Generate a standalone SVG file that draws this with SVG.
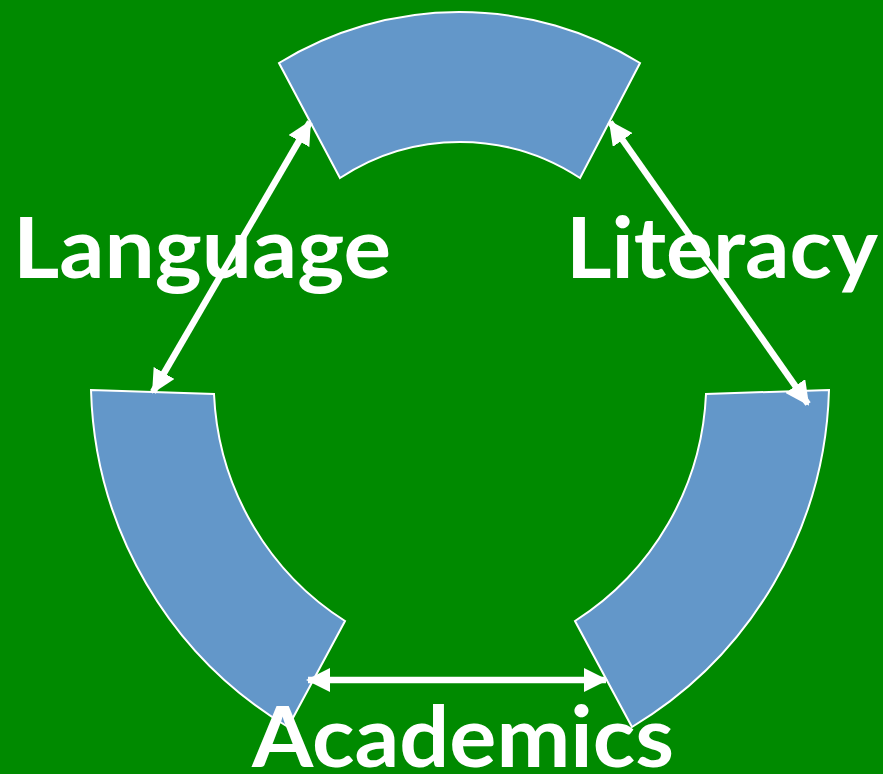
<svg xmlns="http://www.w3.org/2000/svg" width="883" height="774" viewBox="0 0 883 774">
  <defs>
    <style>
      .seg { fill: #6397c9; stroke: #ffffff; stroke-width: 2; stroke-linejoin: miter; }
      .link { fill: none; stroke: #ffffff; stroke-width: 6.5; marker-start: url(#head); marker-end: url(#head); }
      .label { font-family: Lato, "Open Sans", "Liberation Sans", sans-serif; font-weight: 700; font-size: 84px; fill: #ffffff; }
    </style>
    <marker id="head" viewBox="0 0 24 24" refX="22" refY="12" markerWidth="24" markerHeight="24" markerUnits="userSpaceOnUse" orient="auto-start-reverse">
      <path d="M0,0 L24,12 L0,24 Z" fill="#ffffff"/>
    </marker>
  </defs>

  <rect x="0" y="0" width="883" height="774" fill="#008a00"/>

  <!-- ring segments -->
  <g id="segment-top">
    <path class="seg" d="M279,63 A345,345 0 0 1 640,63 L580,178 A218,218 0 0 0 340,178 Z"/>
  </g>
  <g id="segment-left">
    <path class="seg" d="M91,390 L214,394 A284,284 0 0 0 345,621 L288,727 A406,406 0 0 1 91,390 Z"/>
  </g>
  <g id="segment-right">
    <path class="seg" d="M829,390 L706,394 A284,284 0 0 1 575,621 L632,727 A406,406 0 0 0 829,390 Z"/>
  </g>

  <!-- two-way connectors -->
  <g id="connectors">
    <line class="link" x1="310" y1="122" x2="153" y2="392"/>
    <line class="link" x1="610" y1="122" x2="808" y2="404"/>
    <line class="link" x1="308" y1="680" x2="606" y2="680"/>
  </g>

  <!-- labels -->
  <g id="label-language">
    <text class="label" x="13" y="278" textLength="378" lengthAdjust="spacingAndGlyphs">Language</text>
  </g>
  <g id="label-literacy">
    <text class="label" x="566" y="278" textLength="312" lengthAdjust="spacingAndGlyphs">Literacy</text>
  </g>
  <g id="label-academics">
    <text class="label" x="252" y="767" textLength="422" lengthAdjust="spacingAndGlyphs">Academics</text>
  </g>
</svg>
